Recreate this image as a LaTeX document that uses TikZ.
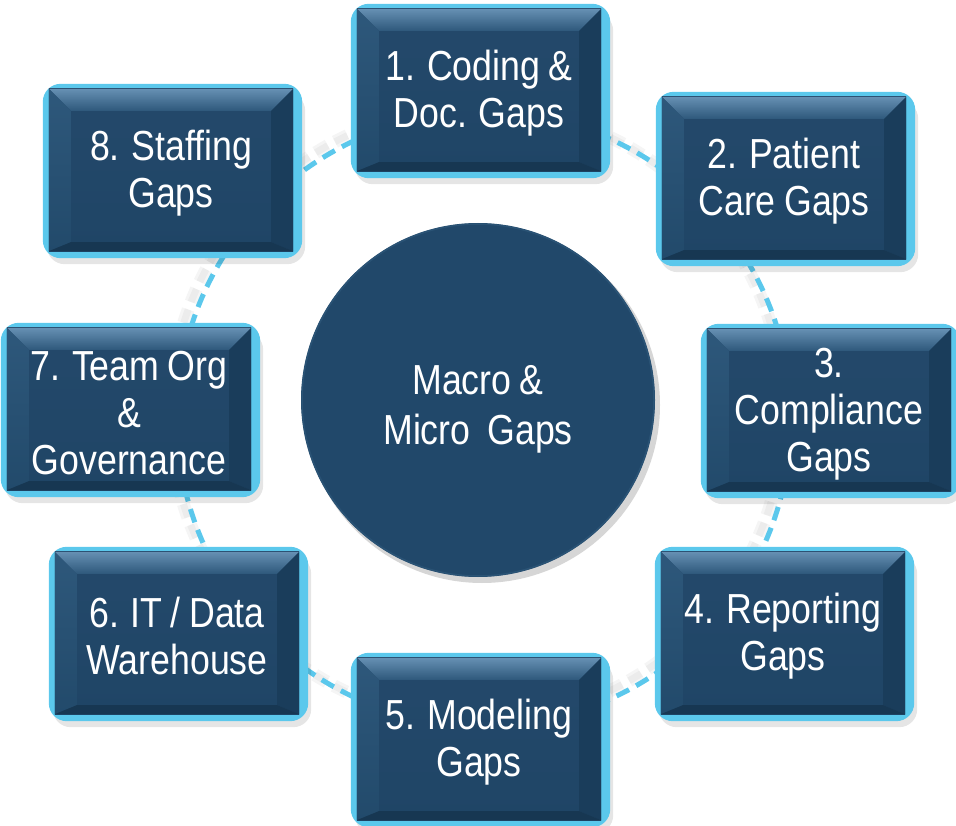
\documentclass[tikz,border=0pt]{standalone}
\usepackage{fontspec}
\setmainfont{Liberation Sans}[FakeStretch=0.85, WordSpace=0.85]
\usetikzlibrary{calc}
\pgfdeclarelayer{ringlayer}
\pgfdeclarelayer{boxlayer}
\pgfsetlayers{ringlayer,boxlayer,main}

\definecolor{navy}{HTML}{1F4566}
\definecolor{navyface}{HTML}{24496B}
\definecolor{navyhi}{HTML}{6690B3}
\definecolor{navymid}{HTML}{2E587B}
\definecolor{navyside}{HTML}{224A6B}
\definecolor{navydark}{HTML}{1A3D5B}
\definecolor{skyblue}{HTML}{5BC8EC}
\definecolor{hubfill}{HTML}{21486A}

% extra room above the first line, to lower the text block a little
\newcommand\tileraise{\rule{0pt}{37pt}}
\newcommand\hubraise{\rule{0pt}{47pt}}

\tikzset{
  gapbox/.style={minimum width=244pt, minimum height=162pt, inner sep=0pt,
    text=white, align=center, font=\fontsize{42}{47}\selectfont},
  hub/.style={circle, minimum size=354pt, inner sep=0pt,
    text=white, align=center, font=\fontsize{42}{50}\selectfont},
  ringline/.style={skyblue, line width=5pt, dash pattern=on 14pt off 8pt},
  ringshade/.style={gray, opacity=0.08, dash pattern=on 14pt off 8pt},
}

% bevelled tile drawn behind a named text node
\newcommand\bevelbox[1]{%
  \begin{pgfonlayer}{boxlayer}
    \fill[black, opacity=0.10, rounded corners=18pt]
      ($(#1.north west)+(-2,4)$) rectangle ($(#1.south east)+(12,13)$);
    \fill[skyblue, rounded corners=18pt]
      ($(#1.north west)+(-6,-5)$) rectangle ($(#1.south east)+(9,7)$);
    \shade[top color=navyface, bottom color=navy]
      (#1.north west) rectangle (#1.south east);
    \shade[top color=navyhi, bottom color=navymid]
      (#1.north west) -- (#1.north east) -- ($(#1.north east)+(-22,22)$)
      -- ($(#1.north west)+(22,22)$) -- cycle;
    \shade[top color=navymid, bottom color=navyside]
      (#1.north west) -- ($(#1.north west)+(22,22)$) -- ($(#1.south west)+(22,-9)$)
      -- (#1.south west) -- cycle;
    \fill[navydark]
      (#1.north east) -- ($(#1.north east)+(-22,22)$) -- ($(#1.south east)+(-22,-9)$)
      -- (#1.south east) -- cycle;
    \fill[navydark!90!black]
      (#1.south west) -- ($(#1.south west)+(22,-9)$) -- ($(#1.south east)+(-22,-9)$)
      -- (#1.south east) -- cycle;
  \end{pgfonlayer}}

\begin{document}
\begin{tikzpicture}[x=1pt, y=-1pt]
  \useasboundingbox (0,0) rectangle (956,826);

  % centre of the dashed ring
  \coordinate (ring) at (484,419);

  % central hub
  \node[hub] (hub) at (478,400) {\hubraise Macro \&\\Micro\ \ Gaps};
  \begin{pgfonlayer}{boxlayer}
    \fill[black, opacity=0.16] ($(hub.center)+(4,5)$) circle[radius=178pt];
    \fill[hubfill] (hub.center) circle[radius=177pt];
    \draw[navymid, line width=1.5pt, opacity=0.7] (hub.center) circle[radius=176pt];
  \end{pgfonlayer}

  % the eight gap tiles
  \node[gapbox] (g1) at (479,90)  {\tileraise 1. Coding \&\\Doc. Gaps};
  \node[gapbox] (g2) at (784,178) {\tileraise 2. Patient\\Care Gaps};
  \node[gapbox] (g3) at (829,410) {\tileraise 3.\\Compliance\\Gaps};
  \node[gapbox] (g4) at (783,633) {\tileraise 4. Reporting\\Gaps};
  \node[gapbox] (g5) at (479,739) {\tileraise 5. Modeling\\Gaps};
  \node[gapbox] (g6) at (177,633) {\tileraise 6. IT / Data\\Warehouse};
  \node[gapbox] (g7) at (129,409) {\tileraise 7. Team Org\\\&\\Governance};
  \node[gapbox] (g8) at (171,170) {\tileraise 8. Staffing\\Gaps};

  \foreach \n in {g1,g2,g3,g4,g5,g6,g7,g8} {\bevelbox{\n}}

  % dashed ring linking the tiles
  \begin{pgfonlayer}{ringlayer}
    \draw[ringshade, line width=13pt] ($(ring)+(-7,-5)$) circle[radius=307pt];
    \draw[ringshade, line width=7pt] ($(ring)+(-7,-5)$) circle[radius=307pt];
    \draw[ringline] (ring) circle[radius=307pt];
  \end{pgfonlayer}
\end{tikzpicture}
\end{document}
